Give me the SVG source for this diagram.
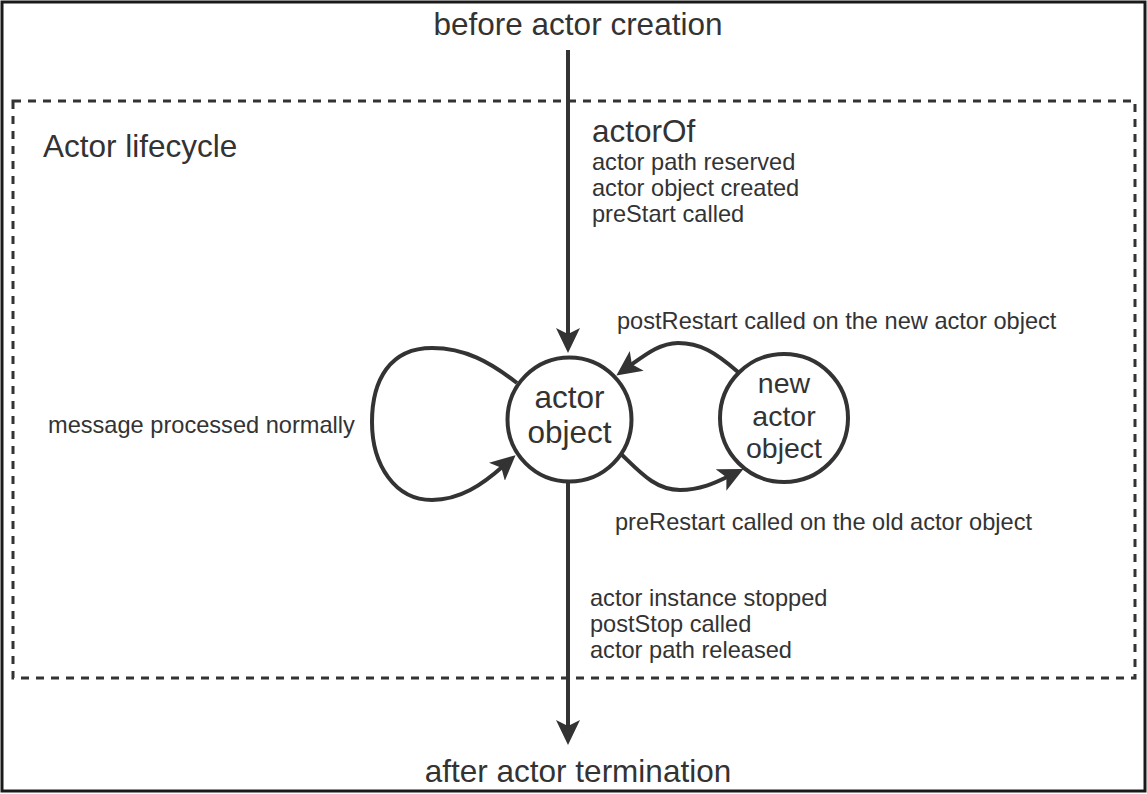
<svg xmlns="http://www.w3.org/2000/svg" width="1147" height="794" viewBox="0 0 1147 794">
<style>
text{font-family:"Liberation Sans",Arial,sans-serif;fill:#333}
.big{font-size:31.5px}
.mid{font-size:28.5px}
.sm{font-size:23.6px}
.node circle{fill:#fff;stroke:#333;stroke-width:4}
.edge{fill:none;stroke:#333;stroke-width:4}
</style>
<defs>
<marker id="ah" markerUnits="userSpaceOnUse" markerWidth="26" markerHeight="24" viewBox="0 0 26 24" refX="9" refY="12" orient="auto">
<path d="M0,0 L25,12 L0,24 L6,12 z" fill="#333"/>
</marker>
</defs>
<rect x="2" y="2" width="1143" height="789" fill="#fff" stroke="#1a1a1a" stroke-width="3"/>
<rect id="lifecycle" x="13" y="101" width="1122" height="577" fill="none" stroke="#333" stroke-width="3" stroke-dasharray="8 7"/>
<text class="big" x="578" y="35" text-anchor="middle">before actor creation</text>
<text class="big" x="578" y="782" text-anchor="middle">after actor termination</text>
<text class="big" x="43" y="157">Actor lifecycle</text>
<text class="big" x="592" y="142">actorOf</text>
<text class="sm" x="592" y="170">actor path reserved</text>
<text class="sm" x="592" y="196">actor object created</text>
<text class="sm" x="592" y="222">preStart called</text>
<text class="sm" x="617" y="329">postRestart called on the new actor object</text>
<text class="sm" x="48" y="433">message processed normally</text>
<text class="sm" x="615" y="530">preRestart called on the old actor object</text>
<text class="sm" x="590" y="606">actor instance stopped</text>
<text class="sm" x="590" y="632">postStop called</text>
<text class="sm" x="590" y="658">actor path released</text>
<g id="connectors">
<path class="edge" d="M568,50 L568,337" marker-end="url(#ah)"/>
<path class="edge" d="M568,482 L568,729" marker-end="url(#ah)"/>
<path class="edge" d="M517,383 C490,362 465,348 432,348 C390,348 372,380 372,422 C372,465 395,500 432,500 C460,500 482,485 503.6,465.8" marker-end="url(#ah)"/>
<path class="edge" d="M738,372 C715,352 700,343 678,343 C660,343 645,355 629.4,366.1" marker-end="url(#ah)"/>
<path class="edge" d="M620,453 C640,472 655,490 680,490 C700,490 715,483 729.1,476" marker-end="url(#ah)"/>
</g>
<g id="actor-object" class="node">
<circle cx="569.5" cy="419.5" r="62"/>
<text class="big" x="569.5" y="408" text-anchor="middle">actor</text>
<text class="big" x="569.5" y="443" text-anchor="middle">object</text>
</g>
<g id="new-actor-object" class="node">
<circle cx="784" cy="418" r="64"/>
<text class="mid" x="784" y="393" text-anchor="middle">new</text>
<text class="mid" x="784" y="426" text-anchor="middle">actor</text>
<text class="mid" x="784" y="458" text-anchor="middle">object</text>
</g>
</svg>
